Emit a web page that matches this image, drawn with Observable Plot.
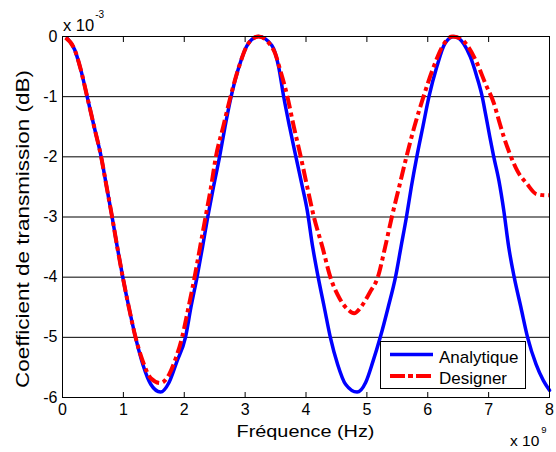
<!DOCTYPE html>
<html>
<head>
<meta charset="utf-8">
<script src="https://cdn.jsdelivr.net/npm/d3@7"></script>
<script src="https://cdn.jsdelivr.net/npm/@observablehq/plot@0.6"></script>
<style>
  body { margin: 0; background: #fff; }
</style>
</head>
<body>
<div id="wrap"></div>
<script>
const seriesNames = ["Analytique", "Designer"];
const seriesColors = ["#0000ff", "#ff0000"];
const xTicks = [0, 1, 2, 3, 4, 5, 6, 7, 8];
const yTicks = [0, -1, -2, -3, -4, -5, -6];
const xLabel = "Fréquence (Hz)";
const yLabel = "Coefficient de transmission (dB)";

const analytiqueF = [0.08,0.2,0.3,0.405,0.52,0.635,0.725,0.815,0.9,0.99,1.09,1.2,1.32,1.45,1.61,1.75,1.88,2.02,2.11,2.21,2.3,2.386,2.48,2.58,2.67,2.77,2.9,3.05,3.22,3.44,3.55,3.63,3.73,3.83,3.93,4.02,4.11,4.2,4.3,4.4,4.52,4.65,4.84,4.98,5.1,5.22,5.35,5.47,5.56,5.65,5.73,5.82,5.92,6.02,6.15,6.28,6.43,6.59,6.7,6.81,6.89,6.95,7.02,7.08,7.17,7.25,7.33,7.42,7.53,7.64,7.78,7.9,8.0];
const analytiqueV = [-0.03,-0.22,-0.55,-1.0,-1.5,-2.0,-2.5,-3.0,-3.5,-4.0,-4.5,-5.0,-5.45,-5.78,-5.91,-5.75,-5.4,-5.0,-4.5,-4.0,-3.5,-3.0,-2.5,-2.0,-1.5,-1.0,-0.5,-0.12,0,-0.15,-0.5,-0.98,-1.5,-1.98,-2.45,-2.89,-3.5,-4.0,-4.5,-5.0,-5.45,-5.78,-5.91,-5.75,-5.4,-5.0,-4.5,-4.0,-3.5,-3.0,-2.5,-2.0,-1.5,-1.0,-0.5,-0.12,0,-0.12,-0.34,-0.68,-0.98,-1.29,-1.67,-1.98,-2.4,-2.9,-3.5,-4.0,-4.5,-5.0,-5.45,-5.72,-5.88];

const designerF = [0.05,0.2,0.3,0.405,0.52,0.635,0.725,0.815,0.9,0.99,1.09,1.2,1.32,1.45,1.61,1.75,1.86,1.965,2.07,2.17,2.26,2.35,2.44,2.52,2.64,2.76,2.9,3.05,3.22,3.47,3.58,3.69,3.8,3.91,4.02,4.13,4.27,4.4,4.55,4.7,4.79,4.9,5.05,5.18,5.3,5.41,5.53,5.65,5.78,5.93,6.08,6.25,6.4,6.53,6.65,6.79,6.95,7.09,7.17,7.25,7.36,7.47,7.63,7.79,7.95,8.0];
const designerV = [-0.02,-0.22,-0.55,-1.0,-1.5,-2.0,-2.5,-3.0,-3.5,-4.0,-4.5,-5.0,-5.4,-5.68,-5.76,-5.62,-5.35,-5.0,-4.5,-4.0,-3.5,-3.0,-2.5,-2.0,-1.5,-1.0,-0.5,-0.12,0,-0.23,-0.57,-0.98,-1.5,-1.98,-2.5,-3.0,-3.5,-4.0,-4.35,-4.55,-4.6,-4.5,-4.25,-4.0,-3.5,-3.0,-2.5,-2.0,-1.5,-1.0,-0.55,-0.15,0,-0.03,-0.15,-0.4,-0.79,-1.12,-1.4,-1.67,-1.98,-2.23,-2.45,-2.62,-2.64,-2.64];

const analytique = analytiqueF.map((f, i) => ({f, v: analytiqueV[i]}));
const designer = designerF.map((f, i) => ({f, v: designerV[i]}));

const FONT = "'Liberation Sans', Arial, Helvetica, sans-serif";
const DASH = "13,4,4,4";

const chart = Plot.plot({
  width: 556,
  height: 452,
  marginLeft: 62,
  marginRight: 7,
  marginTop: 36,
  marginBottom: 55,
  style: { fontFamily: FONT, fontSize: "16px", color: "#000", background: "#fff" },
  x: { domain: [0, 8] },
  y: { domain: [-6, 0] },
  marks: [
    Plot.gridY([-1, -2, -3, -4, -5], { stroke: "#000", strokeOpacity: 1, strokeWidth: 1 }),
    Plot.line(analytique, { x: "f", y: "v", stroke: seriesColors[0], strokeWidth: 3.5, curve: "monotone-x" }),
    Plot.line(designer, { x: "f", y: "v", stroke: seriesColors[1], strokeWidth: 4, strokeDasharray: DASH, strokeLinecap: "butt", curve: "monotone-x" }),
    Plot.frame({ stroke: "#000", strokeWidth: 1 }),
    Plot.axisX(xTicks, { anchor: "bottom", tickSize: 0, tickPadding: 6, fontSize: 16, tickFormat: d => String(d), label: null }),
    Plot.axisX(xTicks, { anchor: "bottom", tickSize: -5, text: null, label: null }),
    Plot.axisX(xTicks, { anchor: "top", tickSize: -5, text: null, label: null }),
    Plot.axisY(yTicks, { anchor: "left", tickSize: 0, tickPadding: 5, fontSize: 16, tickFormat: d => String(d), label: null })
  ]
});

document.getElementById("wrap").appendChild(chart);

const svg = d3.select(chart);
const g = svg.append("g").attr("font-family", FONT).attr("fill", "#000").attr("text-anchor", "start");

// axis labels
g.append("text").attr("x", 305.5).attr("y", 437).attr("text-anchor", "middle")
  .attr("font-size", 17).attr("textLength", 138).attr("lengthAdjust", "spacingAndGlyphs").text(xLabel);
g.append("text").attr("transform", "translate(29,229) rotate(-90)").attr("text-anchor", "middle")
  .attr("font-size", 17.5).attr("textLength", 318).attr("lengthAdjust", "spacingAndGlyphs").text(yLabel);

// exponents
const t1 = g.append("text").attr("x", 63).attr("y", 31).attr("font-size", 16.5);
t1.append("tspan").text("x 10");
t1.append("tspan").attr("dx", 1).attr("dy", -13).attr("font-size", 10).text("-3");
const t2 = g.append("text").attr("x", 510).attr("y", 446).attr("font-size", 15.5);
t2.append("tspan").text("x 10");
t2.append("tspan").attr("dx", 2).attr("dy", -13).attr("font-size", 9.5).text("9");

// legend
const lg = g.append("g");
lg.append("rect").attr("x", 380.5).attr("y", 341.5).attr("width", 145).attr("height", 47)
  .attr("fill", "#fff").attr("stroke", "#000").attr("stroke-width", 1);
seriesNames.forEach((name, i) => {
  const y = 354.5 + i * 21.5;
  lg.append("line").attr("x1", 390).attr("x2", 433).attr("y1", y).attr("y2", y)
    .attr("stroke", seriesColors[i]).attr("stroke-width", i === 0 ? 3.5 : 4)
    .attr("stroke-linecap", "butt")
    .attr("stroke-dasharray", i === 0 ? null : "15,3,5,3");
  lg.append("text").attr("x", 439).attr("y", y + 8.3).attr("font-size", 17).text(name);
});
</script>
</body>
</html>
